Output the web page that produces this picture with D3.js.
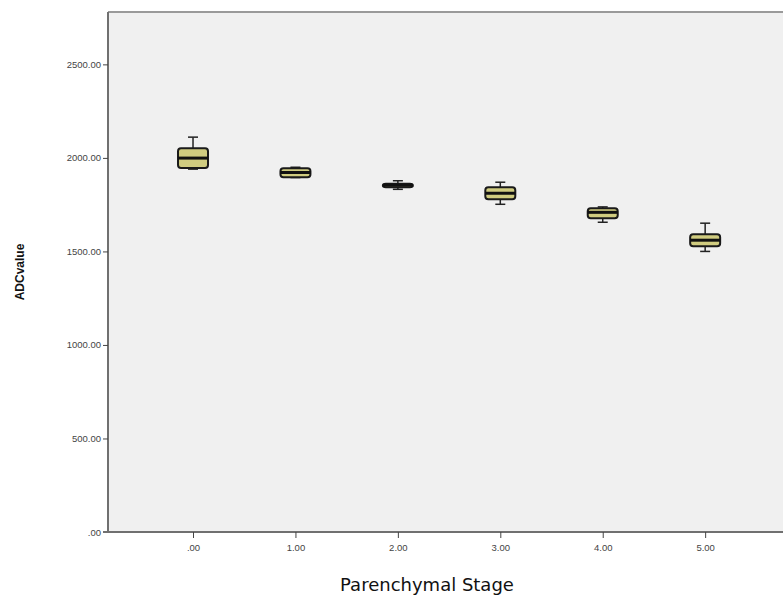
<!DOCTYPE html>
<html>
<head>
<meta charset="utf-8">
<script src="https://cdn.jsdelivr.net/npm/d3@7"></script>
<style>
  body { margin: 0; background: #fff; }
  svg { display: block; }
</style>
</head>
<body>
<div id="container"></div>
<script>
// Data
const stages = [0, 1, 2, 3, 4, 5];
const stageLabels = [".00", "1.00", "2.00", "3.00", "4.00", "5.00"];
const whiskerLow = [1940, 1895, 1832, 1752, 1656, 1500];
const q1 = [1946, 1897, 1843, 1779, 1677, 1527];
const median = [1999, 1922, 1854, 1811, 1709, 1560];
const q3 = [2052, 1945, 1862, 1843, 1731, 1592];
const whiskerHigh = [2111, 1950, 1878, 1870, 1738, 1651];
const yTicks = [0, 500, 1000, 1500, 2000, 2500];

const width = 783;
const height = 599;
const margin = {top: 12, left: 108, bottom: 532, right: 783};

const svg = d3.select("#container")
  .append("svg")
  .attr("width", width)
  .attr("height", height);

// scales
const x = d3.scaleLinear()
  .domain([-0.83, 5.76])
  .range([margin.left, margin.right]);

const y = d3.scaleLinear()
  .domain([0, 2780])
  .range([margin.bottom, margin.top]);

// plot background
svg.append("rect")
  .attr("x", margin.left)
  .attr("y", margin.top)
  .attr("width", margin.right - margin.left)
  .attr("height", margin.bottom - margin.top)
  .attr("fill", "#f0f0f0");

// top border
svg.append("line")
  .attr("x1", margin.left).attr("x2", margin.right)
  .attr("y1", margin.top).attr("y2", margin.top)
  .attr("stroke", "#9a9a9a")
  .attr("stroke-width", 2);

// y axis
const yAxis = svg.append("g")
  .attr("transform", `translate(${margin.left},0)`)
  .call(d3.axisLeft(y).tickValues(yTicks).tickSize(5).tickPadding(2)
    .tickFormat(d => d === 0 ? ".00" : d3.format(".2f")(d)));
yAxis.select(".domain")
  .attr("d", `M0,${margin.top}V${margin.bottom}`)
  .attr("stroke", "#707070")
  .attr("stroke-width", 2);
yAxis.selectAll(".tick line").attr("stroke", "#444");
yAxis.selectAll(".tick text")
  .attr("font-family", "Liberation Sans, sans-serif")
  .attr("font-size", 9.5)
  .attr("fill", "#444");

// x axis
const xAxis = svg.append("g")
  .attr("transform", `translate(0,${margin.bottom})`)
  .call(d3.axisBottom(x).tickValues(stages).tickSize(6).tickPadding(6)
    .tickFormat((d, i) => stageLabels[i]));
xAxis.select(".domain")
  .attr("d", `M${margin.left - 5},0H${margin.right}`)
  .attr("stroke", "#707070")
  .attr("stroke-width", 2);
xAxis.selectAll(".tick line").attr("stroke", "#444");
xAxis.selectAll(".tick text")
  .attr("font-family", "Liberation Sans, sans-serif")
  .attr("font-size", 9.5)
  .attr("fill", "#444");

// boxes
const boxW = 30;
const capW = 10;
const box = svg.append("g")
  .selectAll("g")
  .data(stages)
  .join("g");

box.append("line")
  .attr("x1", d => x(d)).attr("x2", d => x(d))
  .attr("y1", (d, i) => y(whiskerHigh[i]))
  .attr("y2", (d, i) => y(whiskerLow[i]))
  .attr("stroke", "#222")
  .attr("stroke-width", 1.5);

box.append("line")
  .attr("x1", d => x(d) - capW / 2).attr("x2", d => x(d) + capW / 2)
  .attr("y1", (d, i) => y(whiskerHigh[i]))
  .attr("y2", (d, i) => y(whiskerHigh[i]))
  .attr("stroke", "#222")
  .attr("stroke-width", 1.5);

box.append("line")
  .attr("x1", d => x(d) - capW / 2).attr("x2", d => x(d) + capW / 2)
  .attr("y1", (d, i) => y(whiskerLow[i]))
  .attr("y2", (d, i) => y(whiskerLow[i]))
  .attr("stroke", "#222")
  .attr("stroke-width", 1.5);

box.append("rect")
  .attr("x", d => x(d) - boxW / 2)
  .attr("y", (d, i) => y(q3[i]))
  .attr("width", boxW)
  .attr("height", (d, i) => y(q1[i]) - y(q3[i]))
  .attr("rx", 3)
  .attr("fill", "#d0cc80")
  .attr("stroke", "#1a1a1a")
  .attr("stroke-width", 2);

box.append("line")
  .attr("x1", d => x(d) - boxW / 2).attr("x2", d => x(d) + boxW / 2)
  .attr("y1", (d, i) => y(median[i]))
  .attr("y2", (d, i) => y(median[i]))
  .attr("stroke", "#111")
  .attr("stroke-width", 3);

// axis titles
svg.append("text")
  .attr("x", 427)
  .attr("y", 591)
  .attr("text-anchor", "middle")
  .attr("font-family", "DejaVu Sans, sans-serif")
  .attr("font-size", 18)
  .attr("fill", "#111")
  .text("Parenchymal Stage");

svg.append("text")
  .attr("transform", "translate(24,272) rotate(-90)")
  .attr("text-anchor", "middle")
  .attr("font-family", "Liberation Sans, sans-serif")
  .attr("font-weight", "bold")
  .attr("font-size", 12)
  .attr("fill", "#111")
  .text("ADCvalue");
</script>
</body>
</html>
